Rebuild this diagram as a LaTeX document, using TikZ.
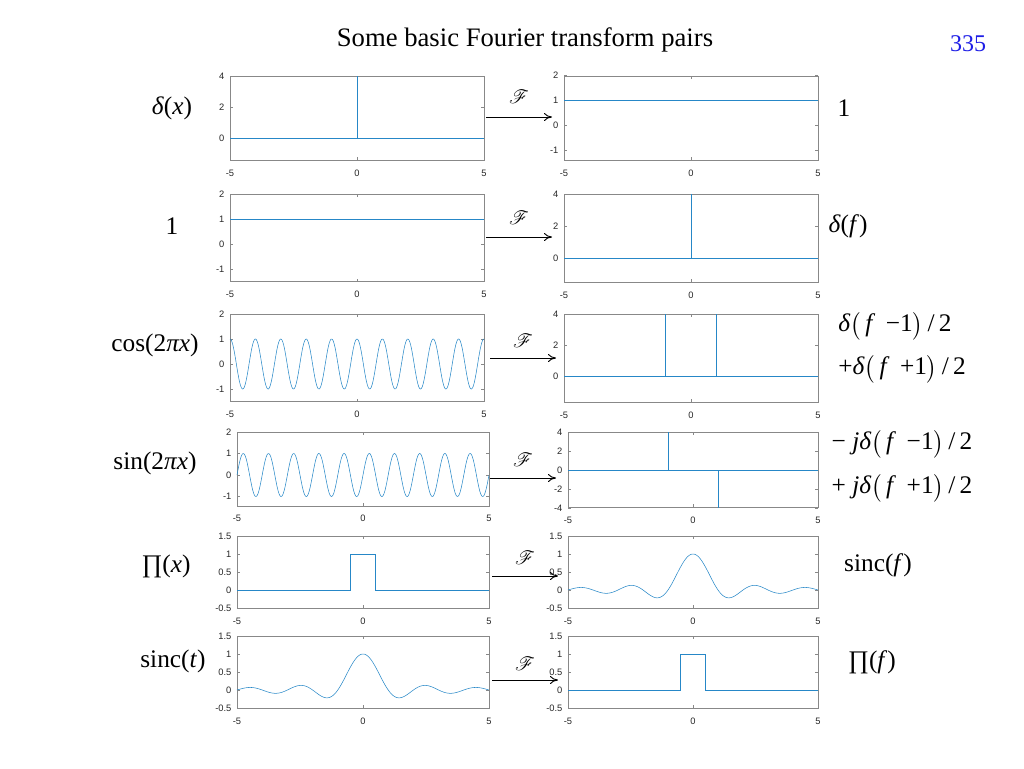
\documentclass[tikz,border=0pt]{standalone}
\usepackage{fontspec}
\usepackage{amsmath}
\usepackage{mathrsfs}
\usetikzlibrary{arrows.meta}
\setmainfont{Liberation Serif}
\setsansfont{Liberation Sans}
\definecolor{mblue}{RGB}{0,114,189}
\definecolor{axgray}{RGB}{38,38,38}
\tikzset{axis/.style={draw=axgray!55,line width=0.4pt},
  ticklab/.style={font=\sffamily\fontsize{7}{8}\selectfont,text=axgray,inner sep=0pt},
  curve/.style={draw=mblue!85,line width=0.4pt},
  lab/.style={font=\fontsize{19}{21}\selectfont,inner sep=0pt},
  ftarrow/.style={-{To[length=6pt,width=6pt]},line width=0.7pt},
  flab/.style={font=\fontsize{15}{17}\selectfont,inner sep=0pt}}
\newcommand\panel[8]{%
\begin{scope}[shift={(#1,#2)},x={(#3*0.75pt,0)},y={(0,#4*0.75pt)}]
  \draw[axis] (-5,#5) rectangle (5,#6);
  \foreach \t in {-5,0,5}{
    \draw[axis] (\t,#5) -- ([yshift=2pt]\t,#5);
    \draw[axis] (\t,#6) -- ([yshift=-2pt]\t,#6);
    \node[ticklab,anchor=base] at ([yshift=-12pt]\t,#5) {\t};}
  \foreach \t in {#7}{
    \draw[axis] (-5,\t) -- ([xshift=2pt]-5,\t);
    \draw[axis] (5,\t) -- ([xshift=-2pt]5,\t);
    \node[ticklab,anchor=east] at ([xshift=-4pt]-5,\t) {\t};}
  #8
\end{scope}}
\newcommand\iv[1]{\textit{#1}}
\begin{document}
\begin{tikzpicture}[x=0.75pt,y=-0.75pt]
\useasboundingbox (0,0) rectangle (1024,768);
\node[lab,font=\fontsize{20}{22}\selectfont] (title) at (525,40) {Some basic Fourier transform pairs};
\node[lab,text={rgb,255:red,30;green,30;blue,230},font=\fontsize{18}{20}\selectfont] (pg) at (968,44) {335};
% row 1
\panel{357}{138}{25.4}{15.5}{-1.42}{4}{0,2,4}{\draw[curve] (-5,0)--(5,0); \draw[curve] (0,0)--(0,4);}
\panel{691}{125}{25.4}{25}{-1.4}{1.96}{-1,0,1,2}{\draw[curve] (-5,1)--(5,1);}
% row 2
\panel{357}{244}{25.4}{25}{-1.5}{2}{-1,0,1,2}{\draw[curve] (-5,1)--(5,1);}
\panel{691}{258}{25.4}{16}{-1.5}{4}{0,2,4}{\draw[curve] (-5,0)--(5,0); \draw[curve] (0,0)--(0,4);}
% row 3
\panel{357}{364}{25.4}{25}{-1.5}{2}{-1,0,1,2}{\draw[curve] plot[domain=-5:5,samples=500,smooth] (\x,{cos(360*\x)});}
\panel{691}{376}{25.4}{15.5}{-1.68}{4}{0,2,4}{\draw[curve] (-5,0)--(-1,0)--(-1,4)--(-1,0)--(1,0)--(1,4)--(1,0)--(5,0);}
% row 4
\panel{363}{475}{25.2}{21.5}{-1.44}{2}{-1,0,1,2}{\draw[curve] plot[domain=-5:5,samples=500,smooth] (\x,{sin(360*\x)});}
\panel{693}{470}{25}{9.5}{-3.9}{4}{-4,-2,0,2,4}{\draw[curve] (-5,0)--(5,0); \draw[curve] (-1,0)--(-1,4); \draw[curve] (1,0)--(1,-4);}
% row 5
\panel{363}{590}{25.2}{36}{-0.5}{1.5}{-0.5,0,0.5,1,1.5}{\draw[curve] (-5,0)--(-0.5,0)--(-0.5,1)--(0.5,1)--(0.5,0)--(5,0);}
\panel{693}{590}{25}{36}{-0.5}{1.5}{-0.5,0,0.5,1,1.5}{\draw[curve] plot[domain=-5:5,samples=400,smooth] (\x,{sin(180*\x)/(pi*\x)});}
% row 6
\panel{363}{690}{25.2}{36}{-0.5}{1.5}{-0.5,0,0.5,1,1.5}{\draw[curve] plot[domain=-5:5,samples=400,smooth] (\x,{sin(180*\x)/(pi*\x)});}
\panel{693}{690}{25}{36}{-0.5}{1.5}{-0.5,0,0.5,1,1.5}{\draw[curve] (-5,0)--(-0.5,0)--(-0.5,1)--(0.5,1)--(0.5,0)--(5,0);}
% labels
\node[lab] (l1) at (172,108) {\iv{δ}(\iv{x})};
\node[lab] (r1) at (844,108) {1};
\node[lab] (l2) at (172,226) {1};
\node[lab] (r2) at (848,226) {\iv{δ}(\iv{f})};
\node[lab] (l3) at (155,345) {cos(2\iv{πx})};
\node[lab] (r3a) at (895,326) {\iv{δ}$\bigl($\,\iv{f}\, −1$\bigr)$\,/\,2};
\node[lab] (r3b) at (902,369) {+\iv{δ}$\bigl($\,\iv{f}\, +1$\bigr)$\,/\,2};
\node[lab] (l4) at (155,463) {sin(2\iv{πx})};
\node[lab] (r4a) at (902,444) {− \iv{jδ}$\bigl($\,\iv{f}\, −1$\bigr)$\,/\,2};
\node[lab] (r4b) at (902,488) {+ \iv{jδ}$\bigl($\,\iv{f}\, +1$\bigr)$\,/\,2};
\node[lab] (l5) at (166,566) {∏(\iv{x})};
\node[lab] (r5) at (878,565) {sinc(\iv{f})};
\node[lab] (l6) at (173,661) {sinc(\iv{t})};
\node[lab] (r6) at (872,662) {∏(\iv{f})};
% arrows
\foreach \i/\xa/\xb/\y/\fy in {1/486/552/117/97, 2/486/552/237/218, 3/490/556/358/341, 4/490/556/478/460, 5/492/558/576/558, 6/492/558/680/664}{
  \coordinate (a\i) at (\xa,\y); \coordinate (b\i) at (\xb,\y);
  \draw[ftarrow] (a\i) -- (b\i);
  \node[flab] (f\i) at ({(\xa+\xb)/2},\fy) {$\boldsymbol{\mathscr{F}}$};}
\end{tikzpicture}
\end{document}
